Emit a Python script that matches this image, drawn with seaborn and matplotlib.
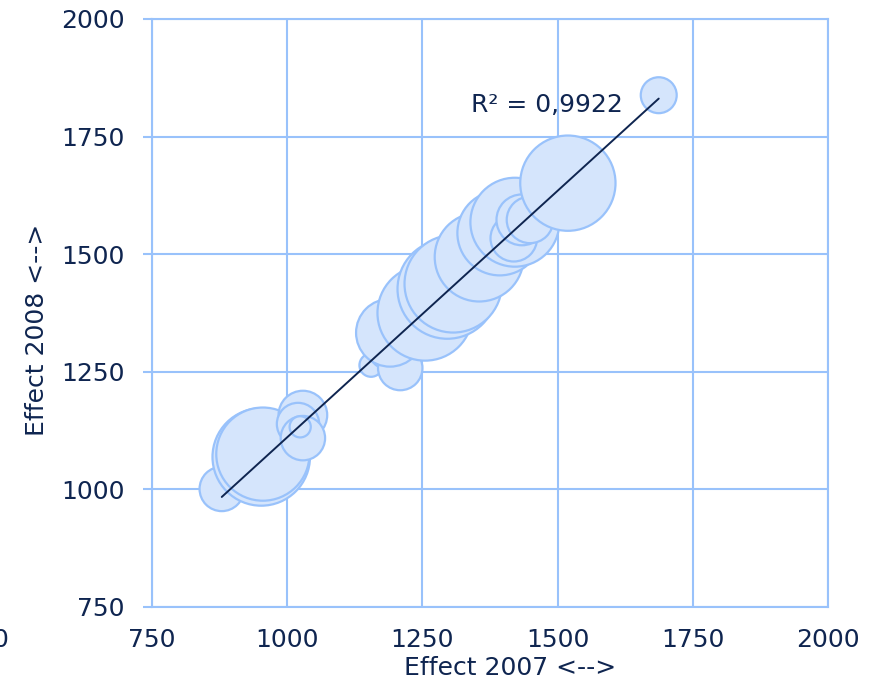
import numpy as np
import pandas as pd
import seaborn as sns
import matplotlib
matplotlib.use("Agg")
import matplotlib.pyplot as plt

# ==========================================
# 数据
# ==========================================
effect_2007 = [879, 952, 955, 1029, 1020, 1029, 1024, 1155, 1185, 1209, 1190,
               1255, 1296, 1307, 1355, 1393, 1421, 1419, 1434, 1449, 1519, 1687]
effect_2008 = [1001, 1069, 1075, 1158, 1139, 1109, 1133, 1264, 1294, 1258, 1333,
               1375, 1426, 1437, 1494, 1545, 1568, 1534, 1573, 1573, 1651, 1838]
volume = [110, 530, 484, 132, 100, 110, 25, 30, 72, 110, 256,
          506, 552, 529, 441, 400, 441, 121, 144, 121, 506, 72]

ticks = [750, 1000, 1250, 1500, 1750, 2000]
r2_label = "R² = 0,9922"

df = pd.DataFrame({"effect_2007": effect_2007,
                   "effect_2008": effect_2008,
                   "volume": volume})

# ==========================================
# 风格
# ==========================================
sns.set_theme(style="white")
plt.rcParams["font.family"] = ["DejaVu Sans"]

navy = "#0f2550"
blue_line = "#99c2fb"
fill = "#d5e5fc"

fig = plt.figure(figsize=(8.75, 6.86), dpi=100)
ax = fig.add_axes([152 / 875, 1 - 607 / 686, 676 / 875, 588 / 686])

# 气泡: 面积与数值成正比
k = 9.3
sns.scatterplot(data=df, x="effect_2007", y="effect_2008", size="volume",
                sizes=(k * df["volume"].min(), k * df["volume"].max()),
                legend=False, color=fill, edgecolor=blue_line, linewidth=1.6,
                alpha=1, ax=ax, zorder=3)

# 线性趋势线
slope, intercept = np.polyfit(df["effect_2007"], df["effect_2008"], 1)
xs = np.array([df["effect_2007"].min(), df["effect_2007"].max()])
ax.plot(xs, slope * xs + intercept, color=navy, lw=1.4, zorder=4)
ax.text(1340, 1817, r2_label, fontsize=18, color=navy, va="center", zorder=5)

ax.set_xlim(750, 2000)
ax.set_ylim(750, 2000)
ax.set_xticks(ticks)
ax.set_yticks(ticks)
ax.grid(True, color=blue_line, lw=1.5, zorder=0)
ax.set_axisbelow(True)
for sp in ax.spines.values():
    sp.set_color(blue_line)
    sp.set_linewidth(1.5)

ax.tick_params(axis="y", length=6.5, width=1.5, color=blue_line, pad=13,
               labelsize=18, labelcolor=navy, left=True)
ax.tick_params(axis="x", length=0, pad=15, labelsize=18, labelcolor=navy)

ax.set_xlabel("Effect 2007 <-->", fontsize=18, color=navy)
ax.set_ylabel("Effect 2008 <-->", fontsize=18, color=navy)
ax.xaxis.set_label_coords(0.53, -0.083)
ax.yaxis.set_label_coords(-0.152, 0.471)

# 左下角被截断的 "0"
fig.text(0.0, 1 - 628 / 686, "0", fontsize=18, color=navy, ha="center", va="top")

fig.savefig("out.png", dpi=100)
